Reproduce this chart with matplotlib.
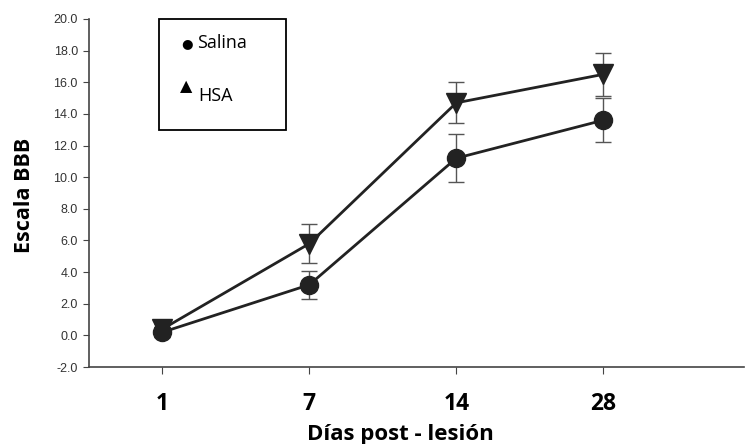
import matplotlib
matplotlib.use("Agg")
import matplotlib.pyplot as plt
from matplotlib.patches import Rectangle

days = ["1", "7", "14", "28"]
salina = [0.2, 3.2, 11.2, 13.6]
salina_err = [0.3, 0.9, 1.5, 1.4]
hsa = [0.4, 5.8, 14.7, 16.5]
hsa_err = [0.3, 1.25, 1.3, 1.35]
yticks = [-2.0, 0.0, 2.0, 4.0, 6.0, 8.0, 10.0, 12.0, 14.0, 16.0, 18.0, 20.0]

fig = plt.figure(figsize=(7.45, 4.44), dpi=100)
ax = fig.add_axes([89/745, 1-367/444, 1-89/745 - 0.001, (367-19)/444])

x = list(range(len(days)))
line_c = "#222222"
err_c = "#555555"
ax.errorbar(x, hsa, yerr=hsa_err, fmt="none", ecolor=err_c, elinewidth=1.0, capsize=6, capthick=1.0, zorder=2)
ax.errorbar(x, salina, yerr=salina_err, fmt="none", ecolor=err_c, elinewidth=1.0, capsize=6, capthick=1.0, zorder=2)
ax.plot(x, hsa, color=line_c, lw=2, marker="v", markersize=14, zorder=3)
ax.plot(x, salina, color=line_c, lw=2, marker="o", markersize=13, zorder=4)

ax.set_xlim(-0.5, 3.96)
ax.set_ylim(-2, 20)
ax.set_xticks(x)
ax.set_xticklabels(days, fontsize=16.5, fontweight="bold", family="Open Sans")
ax.set_yticks(yticks)
ax.set_yticklabels([f"{v:.1f}" for v in yticks], fontsize=9, family="Liberation Sans", color="#333333")
for s in ["top", "right"]:
    ax.spines[s].set_visible(False)
for s in ["left", "bottom"]:
    ax.spines[s].set_color("#444444")
    ax.spines[s].set_linewidth(1.2)
ax.tick_params(axis="y", direction="out", length=4, color="#444444", pad=4)
ax.tick_params(axis="x", direction="out", length=5, color="#444444", pad=13)

fig.text(400/745, 1-440/444, "Días post - lesión", fontsize=16, fontweight="bold",
         family="Open Sans", ha="center", va="baseline")
fig.text(25/745, 1-195/444, "Escala BBB", rotation=90, fontsize=15.5, fontweight="bold",
         family="Open Sans", ha="center", va="center")

# legend box
fig.patches.append(Rectangle((159/745, 1-130/444), (286-159)/745, (130-19)/444,
                             transform=fig.transFigure, fill=False, edgecolor="black", lw=1.3))
fig.text(181/745, 1-44/444, "●", fontsize=9.5, family="DejaVu Sans", ha="left", va="center")
fig.text(197/745, 1-43/444, "Salina", fontsize=13, family="Open Sans", ha="left", va="center")
fig.text(180/745, 1-87/444, "▲", fontsize=11.5, family="DejaVu Sans", ha="left", va="center")
fig.text(198/745, 1-96/444, "HSA", fontsize=13, family="Open Sans", ha="left", va="center")

fig.savefig("out.png", dpi=100)
